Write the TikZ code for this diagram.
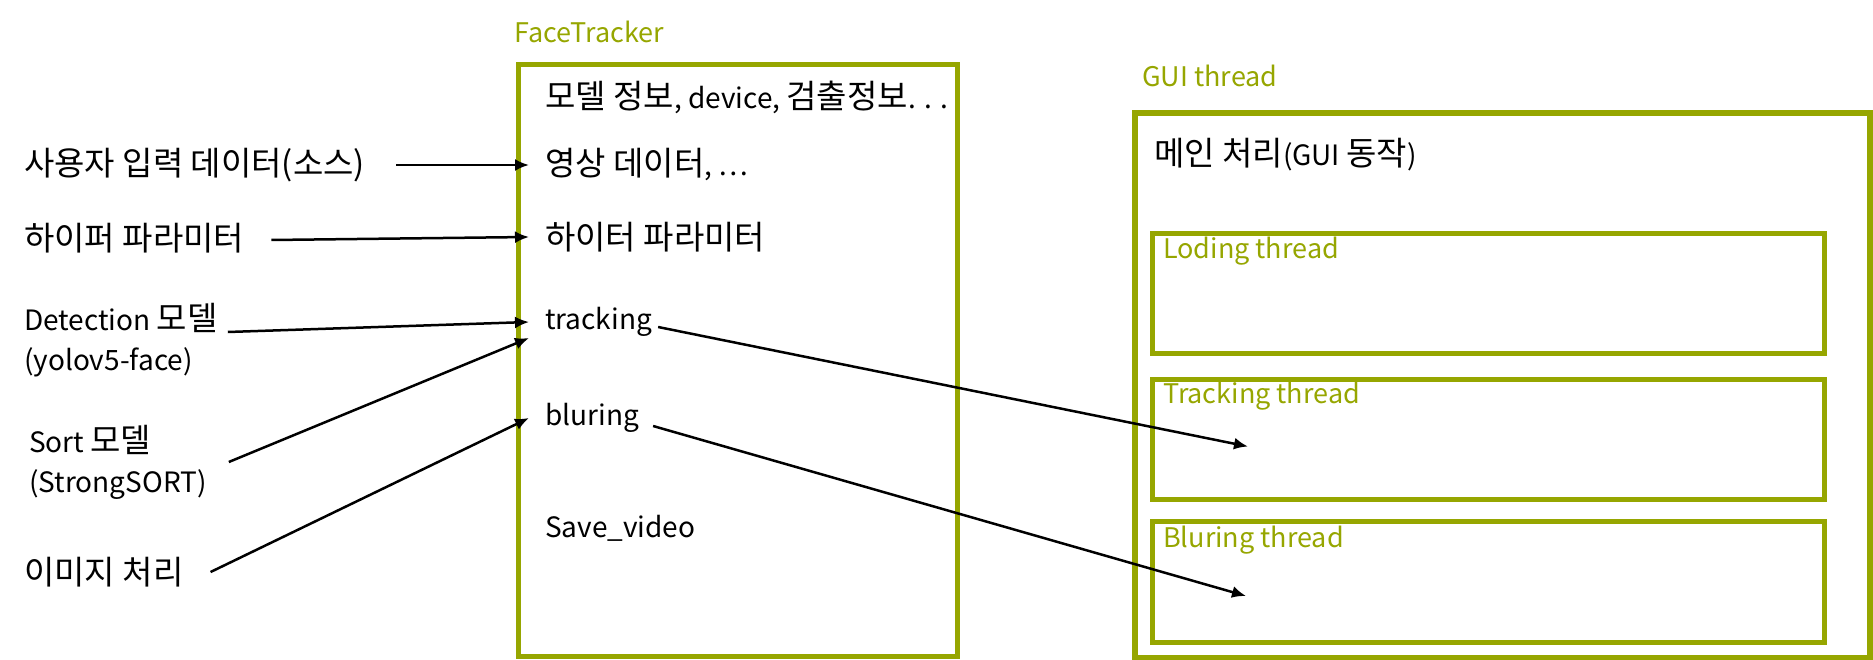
\documentclass[tikz,border=0pt]{standalone}
\usepackage{fontspec}
\setmainfont{Noto Sans CJK KR}
\usepackage{xcolor}
\usepackage{tikz}
\usetikzlibrary{arrows.meta, positioning}
\definecolor{threadgreen}{RGB}{150,166,0}
\newcommand\ko[1]{{\fontsize{33}{40}\selectfont #1}}
\tikzset{
    txt/.style={anchor=west, inner sep=0pt, font=\fontsize{28}{40}\selectfont, align=left},
    title/.style={txt, text=threadgreen, font=\fontsize{27}{40}\selectfont},
    box/.style={draw=threadgreen, line width=5pt, anchor=north west, inner sep=0pt},
    link/.style={-{Latex[length=14pt,width=12pt]}, line width=2.5pt}
}
\begin{document}
\begin{tikzpicture}[x=1pt, y=-1pt]
    \useasboundingbox (0,0) rectangle (1873,660);
    % FaceTracker
    \node[title] (ftname) at (514,32) {FaceTracker};
    \node[box, minimum width=439pt, minimum height=592pt] (ftbox) at (516,62) {};
    \node[txt] (info) at (545,97) {\ko{모델 정보}, device, \ko{검출정보}. . .};
    \node[txt] (vid) at (545,165) {\ko{영상 데이터}, …};
    \node[txt] (hyp2) at (545,237) {\ko{하이터 파라미터}};
    \node[txt] (trk) at (545,322) {tracking};
    \node[txt] (blur) at (545,418) {bluring};
    \node[txt] (save) at (545,528) {Save\_video};
    % inputs
    \node[txt] (src) at (24,165) {\ko{사용자 입력 데이터(소스)}};
    \node[txt] (hyp) at (24,238) {\ko{하이퍼 파라미터}};
    \node[txt] (det) at (24,340) {Detection \ko{모델}\\(yolov5-face)};
    \node[txt] (sort) at (29,462) {Sort \ko{모델}\\(StrongSORT)};
    \node[txt] (img) at (24,572) {\ko{이미지 처리}};
    % GUI thread
    \node[title] (guiname) at (1142,76) {GUI thread};
    \node[box, line width=6pt, minimum width=735pt, minimum height=545pt] (guibox) at (1132,110) {};
    \node[txt] (main) at (1154,155) {\ko{메인 처리}(GUI \ko{동작})};
    \node[box, minimum width=672pt, minimum height=120pt] (loadbox) at (1150,231) {};
    \node[box, minimum width=672pt, minimum height=120pt] (trkbox) at (1150,377) {};
    \node[box, minimum width=672pt, minimum height=121pt] (blurbox) at (1150,519) {};
    \node[title] (loadname) at (1163,251) {Loding thread};
    \node[title] (trkname) at (1163,396) {Tracking thread};
    \node[title] (blurname) at (1163,540) {Bluring thread};
    % arrows
    \draw[link] ([xshift=31pt]src.east) -- ([xshift=-16pt]vid.west);
    \draw[link] ([xshift=27pt,yshift=-2pt]hyp.east) -- ([xshift=-16pt]hyp2.west);
    \draw[link] ([xshift=10pt,yshift=8pt]det.east) -- ([xshift=-16pt]trk.west);
    \draw[link] ([xshift=22pt]sort.east) -- ([xshift=-16pt,yshift=-16pt]trk.west);
    \draw[link] ([xshift=27pt]img.east) -- ([xshift=-16pt]blur.west);
    \draw[link] ([xshift=6pt,yshift=-5pt]trk.east) -- ([xshift=98pt,yshift=-7pt]trkbox.west);
    \draw[link] ([xshift=14pt,yshift=-8pt]blur.east) -- ([xshift=96pt,yshift=-14pt]blurbox.west);
\end{tikzpicture}
\end{document}
